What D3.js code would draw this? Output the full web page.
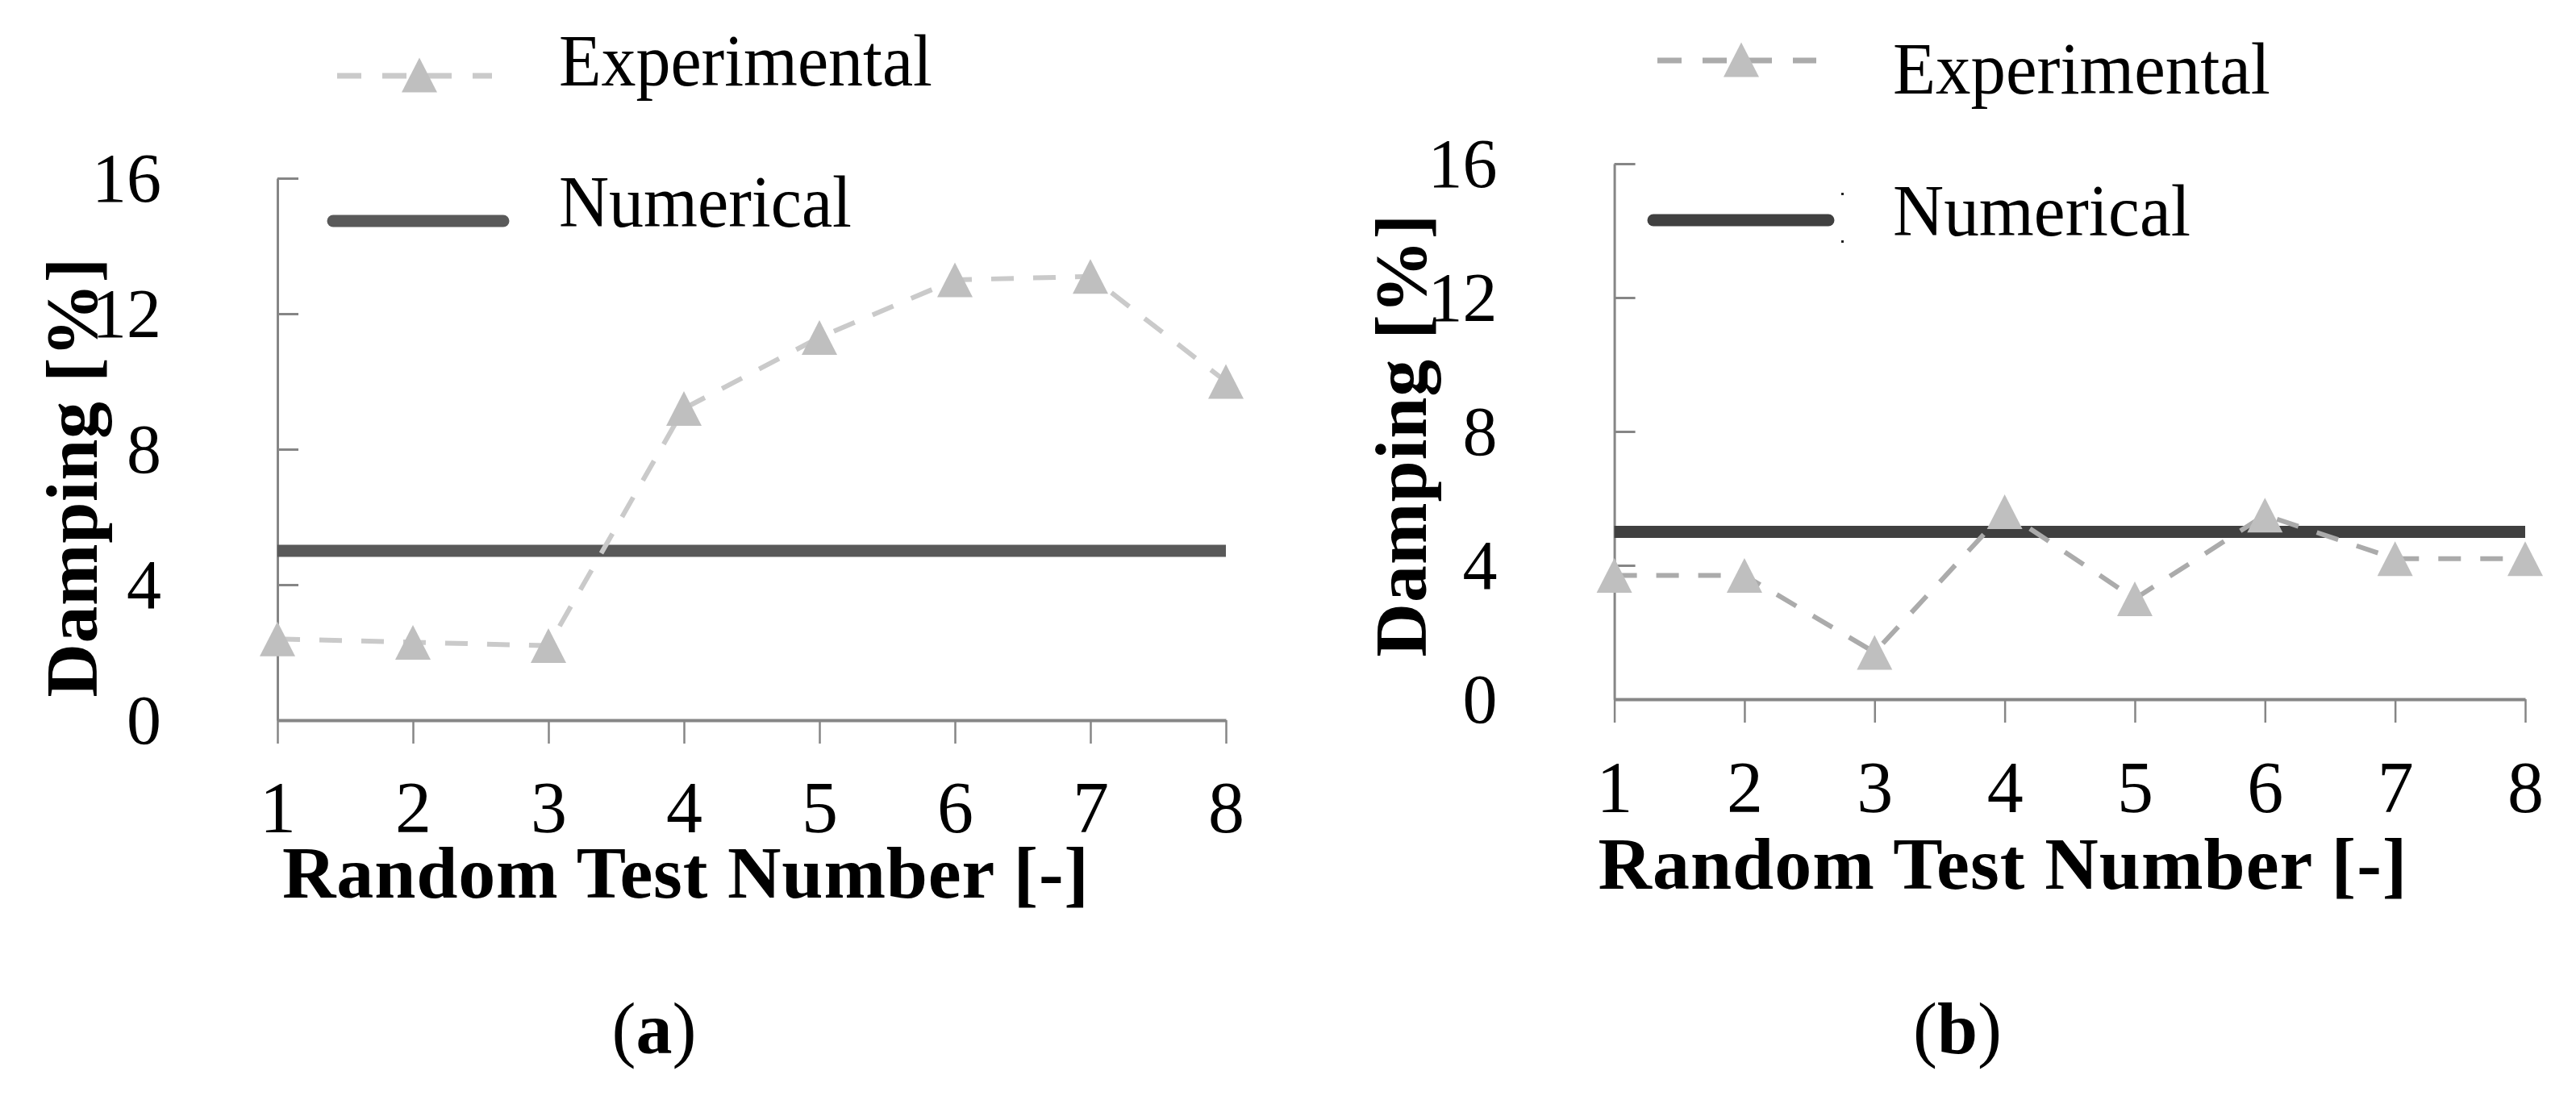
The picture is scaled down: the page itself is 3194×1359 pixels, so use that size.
<!DOCTYPE html>
<html>
<head>
<meta charset="utf-8">
<script src="https://cdn.jsdelivr.net/npm/d3@7"></script>
<style>
  html, body { margin: 0; padding: 0; background: #ffffff; }
  svg { display: block; }
</style>
</head>
<body>
<svg id="chart" width="3194" height="1359"></svg>
<script>
// ---------------- DATA ----------------
const categories = [1, 2, 3, 4, 5, 6, 7, 8];
const yTickValues = [0, 4, 8, 12, 16];
const yDomain = [0, 16];
const seriesNames = ["Experimental", "Numerical"];
const experimentalA = [2.4, 2.3, 2.2, 9.2, 11.3, 13.0, 13.1, 10.0];
const numericalA = [5, 5, 5, 5, 5, 5, 5, 5];
const experimentalB = [3.7, 3.7, 1.4, 5.6, 3.0, 5.5, 4.2, 4.2];
const numericalB = [5, 5, 5, 5, 5, 5, 5, 5];
const xTitle = "Random Test Number [-]";
const yTitle = "Damping [%]";
const captions = ["a", "b"];

// ---------------- LAYOUT ----------------
const FONT = "'Liberation Serif', 'Times New Roman', serif";
const panels = [
  {
    exp: experimentalA, num: numericalA, caption: captions[0],
    x0: 344, x1: 1520, y0: 893, y1: 221,
    labelGap: 144, xLabelBaseline: 1032,
    xTitleX: 850, xTitleY: 1113, xTitleLen: 1000,
    yTitleX: 120, yTitleY: 592, yTitleLen: 545,
    capX: 811, capY: 1306,
    legExp: [418, 610], legExpY: 94, legTriX: 520, legTextX: 693, legExpTextY: 106, legExpLen: 463,
    legNum: [413, 624], legNumY: 274, legNumTextY: 281, legNumLen: 363,
    dashColor: "#cacaca", triColor: "#bfbfbf", numColor: "#595959", dots: false
  },
  {
    exp: experimentalB, num: numericalB, caption: captions[1],
    x0: 2001.6, x1: 3131, y0: 867, y1: 203,
    labelGap: 145, xLabelBaseline: 1007,
    xTitleX: 2483, xTitleY: 1102, xTitleLen: 1003,
    yTitleX: 1768, yTitleY: 540, yTitleLen: 549,
    capX: 2427, capY: 1306,
    legExp: [2055, 2252], legExpY: 75, legTriX: 2159, legTextX: 2347, legExpTextY: 116, legExpLen: 468,
    legNum: [2050, 2267], legNumY: 273, legNumTextY: 292, legNumLen: 369,
    dashColor: "#ababab", triColor: "#bfbfbf", numColor: "#404040", dots: true
  }
];

const svg = d3.select("#chart");
svg.append("rect").attr("width", 3194).attr("height", 1359).attr("fill", "#ffffff");

const AXIS_COLOR = "#868686";
const TRI_W = 44, TRI_H = 43;
const triPath = `M0,${-TRI_H/2}L${TRI_W/2},${TRI_H/2}L${-TRI_W/2},${TRI_H/2}Z`;

panels.forEach(p => {
  const g = svg.append("g");
  const x = d3.scalePoint().domain(categories).range([p.x0, p.x1]);
  const y = d3.scaleLinear().domain(yDomain).range([p.y0, p.y1]);

  // Y axis (ticks pointing inward)
  const yAxis = d3.axisLeft(y).tickValues(yTickValues).tickFormat(d3.format("d"))
    .tickSizeInner(-26).tickSizeOuter(0).tickPadding(p.labelGap);
  const gy = g.append("g").attr("transform", `translate(${p.x0},0)`).call(yAxis);
  gy.select(".domain").attr("stroke", AXIS_COLOR).attr("stroke-width", 3);
  gy.selectAll(".tick line").attr("stroke", AXIS_COLOR).attr("stroke-width", 3);
  gy.selectAll(".tick").filter(d => d === 0).select("line").remove();
  gy.selectAll(".tick text").attr("font-family", FONT).attr("font-size", 86)
    .attr("fill", "#000").attr("dy", "0.33em");
  gy.attr("font-family", null).attr("font-size", null);

  // X axis
  const xAxis = d3.axisBottom(x).tickSizeInner(29).tickSizeOuter(0).tickPadding(0);
  const gx = g.append("g").attr("transform", `translate(0,${p.y0})`).call(xAxis);
  gx.select(".domain").attr("stroke", AXIS_COLOR).attr("stroke-width", 4);
  gx.selectAll(".tick line").attr("stroke", AXIS_COLOR).attr("stroke-width", 2.5);
  gx.selectAll(".tick text").attr("font-family", FONT).attr("font-size", 90)
    .attr("fill", "#000").attr("dy", null).attr("y", p.xLabelBaseline - p.y0);
  gx.attr("font-family", null).attr("font-size", null);

  // Numerical line
  const line = d3.line().x((d, i) => x(categories[i])).y(d => y(d));
  g.append("path").datum(p.num).attr("d", line)
    .attr("fill", "none").attr("stroke", p.numColor).attr("stroke-width", 15)
    .attr("stroke-linecap", "butt");

  // Experimental dashed line
  g.append("path").datum(p.exp).attr("d", line)
    .attr("fill", "none").attr("stroke", p.dashColor).attr("stroke-width", 6)
    .attr("stroke-dasharray", "28,24");

  // Triangles
  g.selectAll("path.tri").data(p.exp).enter().append("path").attr("class", "tri")
    .attr("d", triPath)
    .attr("transform", (d, i) => `translate(${x(categories[i])},${y(d)})`)
    .attr("fill", p.triColor);

  // Axis titles
  g.append("text").text(xTitle).attr("x", p.xTitleX).attr("y", p.xTitleY)
    .attr("text-anchor", "middle").attr("font-family", FONT).attr("font-weight", "bold")
    .attr("font-size", 92).attr("fill", "#000").attr("textLength", p.xTitleLen);
  g.append("text").text(yTitle)
    .attr("transform", `translate(${p.yTitleX},${p.yTitleY}) rotate(-90)`)
    .attr("text-anchor", "middle").attr("font-family", FONT).attr("font-weight", "bold")
    .attr("font-size", 92).attr("fill", "#000").attr("textLength", p.yTitleLen);

  // Legend
  const leg = g.append("g");
  leg.append("line").attr("x1", p.legExp[0]).attr("x2", p.legExp[1])
    .attr("y1", p.legExpY).attr("y2", p.legExpY)
    .attr("stroke", p.dashColor).attr("stroke-width", 7).attr("stroke-dasharray", "30,26");
  leg.append("path").attr("d", triPath)
    .attr("transform", `translate(${p.legTriX},${p.legExpY - 1})`).attr("fill", p.triColor);
  leg.append("text").text(seriesNames[0]).attr("x", p.legTextX).attr("y", p.legExpTextY)
    .attr("font-family", FONT).attr("font-size", 92).attr("fill", "#000")
    .attr("textLength", p.legExpLen).attr("lengthAdjust", "spacingAndGlyphs");
  leg.append("line").attr("x1", p.legNum[0]).attr("x2", p.legNum[1])
    .attr("y1", p.legNumY).attr("y2", p.legNumY)
    .attr("stroke", p.numColor).attr("stroke-width", 15).attr("stroke-linecap", "round");
  leg.append("text").text(seriesNames[1]).attr("x", p.legTextX).attr("y", p.legNumTextY)
    .attr("font-family", FONT).attr("font-size", 90).attr("fill", "#000")
    .attr("textLength", p.legNumLen).attr("lengthAdjust", "spacingAndGlyphs");
  if (p.dots) {
    [-34, 25].forEach(dy => {
      leg.append("rect").attr("x", p.legNum[1] + 16).attr("y", p.legNumY + dy)
        .attr("width", 3).attr("height", 3).attr("fill", "#222");
    });
  }

  // Caption
  const cap = g.append("text").attr("x", p.capX).attr("y", p.capY)
    .attr("text-anchor", "middle").attr("font-family", FONT).attr("font-size", 90).attr("fill", "#000");
  cap.append("tspan").text("(");
  cap.append("tspan").text(p.caption).attr("font-weight", "bold");
  cap.append("tspan").text(")");
});
</script>
</body>
</html>
